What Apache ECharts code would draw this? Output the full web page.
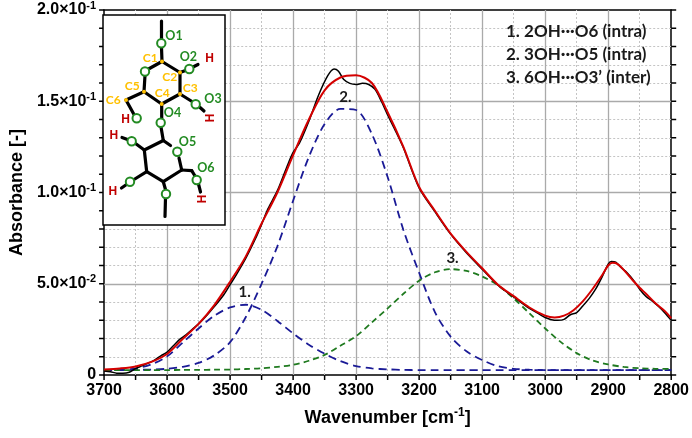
<!DOCTYPE html>
<html>
<head>
<meta charset="utf-8">
<script src="https://cdn.jsdelivr.net/npm/echarts@6/dist/echarts.min.js"></script>
<style>html,body{margin:0;padding:0;background:#fff}#chart{width:692px;height:438px}</style>
</head>
<body>
<div id="chart"></div>
<script>
// measured spectrum (black)
var wnMeasured = [3700,3690,3680,3670,3660,3650,3640,3630,3620,3610,3600,3590,3580,3570,3560,3550,3540,3525,3510,3500,
    3490,3475,3460,3450,3440,3425,3410,3400,3390,3375,3360,3345,3335,3328,3320,3310,3300,3290,3280,3270,
    3260,3250,3240,3225,3200,3175,3150,3125,3100,3075,3050,3025,3010,3000,2990,2980,2970,2960,2950,2940,
    2930,2920,2910,2900,2895,2888,2880,2870,2860,2850,2840,2830,2820,2810,2800];
var absMeasured = [0.0022,0.0018,0.0010,0.0009,0.0015,0.0035,0.0050,0.0065,0.0082,0.0105,0.0125,0.0160,0.0195,0.0220,0.0250,0.0280,0.0315,0.0375,0.0440,0.0495,
    0.0550,0.0640,0.0745,0.0825,0.0910,0.1010,0.1140,0.1220,0.1270,0.1390,0.1530,0.1640,0.1677,0.1665,0.1620,0.1598,0.1592,0.1598,0.1592,0.1565,
    0.1500,0.1425,0.1355,0.1245,0.1025,0.0895,0.0772,0.0670,0.0580,0.0492,0.0428,0.0365,0.0335,0.0315,0.0303,0.0300,0.0305,0.0330,0.0342,0.0380,
    0.0420,0.0470,0.0535,0.0608,0.0622,0.0618,0.0590,0.0560,0.0520,0.0470,0.0430,0.0405,0.0375,0.0340,0.0300];

// fitted envelope (red)
var wnFit = [3700,3675,3650,3625,3600,3575,3550,3525,3500,3475,3450,3425,3400,3375,3350,3325,3300,3275,3250,3225,
    3200,3175,3150,3125,3100,3075,3050,3025,3000,2985,2970,2955,2940,2925,2910,2900,2893,2885,2875,2860,
    2850,2840,2825,2810,2800];
var absFit = [0.0030,0.0036,0.0047,0.0072,0.0115,0.0198,0.0280,0.0383,0.0511,0.0650,0.0830,0.1000,0.1205,0.1400,0.1560,0.1630,0.1642,0.1600,0.1440,0.1250,
    0.1030,0.0900,0.0775,0.0675,0.0585,0.0495,0.0432,0.0370,0.0325,0.0315,0.0325,0.0355,0.0405,0.0470,0.0545,0.0600,0.0615,0.0608,0.0575,0.0515,
    0.0478,0.0445,0.0393,0.0350,0.0311];

// deconvoluted peaks (dashed)
var wnPeak = [3700,3675,3650,3625,3600,3575,3550,3525,3500,3475,3450,3425,3400,3375,3350,3325,3300,3275,3250,3225,
    3200,3175,3150,3125,3100,3075,3050,3025,3000,2975,2950,2925,2900,2875,2850,2825,2800];
var absPeak1 = [0.0027,0.0028,0.0036,0.0058,0.0102,0.0178,0.0255,0.0325,0.0370,0.0385,0.0357,0.0296,0.0228,0.0166,0.0117,0.0076,0.0049,0.0036,0.0031,0.0028,
    0.0027,0.0027,0.0027,0.0027,0.0027,0.0027,0.0027,0.0027,0.0027,0.0027,0.0027,0.0027,0.0027,0.0027,0.0027,0.0027,0.0027];
var absPeak2 = [0.0027,0.0027,0.0028,0.0030,0.0034,0.0045,0.0066,0.0108,0.0180,0.0318,0.0500,0.0705,0.0955,0.1195,0.1375,0.1458,0.1452,0.1320,0.1085,0.0795,
    0.0560,0.0345,0.0210,0.0130,0.0082,0.0048,0.0034,0.0029,0.0027,0.0027,0.0027,0.0027,0.0027,0.0027,0.0027,0.0027,0.0027];
var absPeak3 = [0.0027,0.0027,0.0027,0.0027,0.0027,0.0028,0.0028,0.0029,0.0030,0.0033,0.0037,0.0045,0.0056,0.0078,0.0110,0.0160,0.0213,0.0288,0.0365,0.0445,
    0.0517,0.0563,0.0580,0.0570,0.0540,0.0492,0.0420,0.0338,0.0255,0.0180,0.0120,0.0080,0.0058,0.0044,0.0037,0.0034,0.0033];

// peak numbers placed in data coordinates
var peakNames = ['1.', '2.', '3.'];
var peakNameWn = [3477, 3317, 3147];
var peakNameAbs = [0.0455, 0.152, 0.064];

var legendLines = ['1. 2OH\u00b7\u00b7\u00b7O6 (intra)', '2. 3OH\u00b7\u00b7\u00b7O5 (intra)', '3. 6OH\u00b7\u00b7\u00b7O3\u2019 (inter)'];

var yTickMant = {0: '0', 5: '5.0', 10: '1.0', 15: '1.5', 20: '2.0'};
var yTickExp = {0: '', 5: '-2', 10: '-1', 15: '-1', 20: '-1'};

// grid line / tick positions
var gridMajorX = [3600, 3500, 3400, 3300, 3200, 3100, 3000, 2900];
var gridMinorX = [3650, 3550, 3450, 3350, 3250, 3150, 3050, 2950, 2850];
var gridMajorY = [0.05, 0.10, 0.15];
var gridMinorY = [0.01, 0.02, 0.03, 0.04, 0.06, 0.07, 0.08, 0.09, 0.11, 0.12, 0.13, 0.14, 0.16, 0.17, 0.18, 0.19];
var tickX = [3700, 3650, 3600, 3550, 3500, 3450, 3400, 3350, 3300, 3250, 3200, 3150, 3100, 3050, 3000, 2950, 2900, 2850, 2800];
var tickY = [0, 0.01, 0.02, 0.03, 0.04, 0.05, 0.06, 0.07, 0.08, 0.09, 0.10, 0.11, 0.12, 0.13, 0.14, 0.15, 0.16, 0.17, 0.18, 0.19, 0.20];

function zip(xs, ys) {
    return xs.map(function (x, i) { return [x, ys[i]]; });
}

var AX = '"Liberation Sans", Arial, sans-serif';
var ANN = 'Lato, "Open Sans", sans-serif';
var GREEN = '#238b23', GOLD = '#ffc000', HRED = '#c00000';

// ---- inset molecule (decoration) ----
var bonds = [
    [161.5,21,161.5,39],[161.5,47.5,162,61.5],[162,61.5,180,72.5],[180,72.5,180,94],[180,94,161.7,104],
    [161.7,104,144,91.7],[144,91.7,145,75.5],[148.5,69,162,61.5],[180,72.5,185.5,70.5],[193,67,198,64.5],
    [180,94,192,101.5],[199.5,107,204,111],[144,91.7,126,100],[126,100,134,114.5],[161.7,104,161.7,118.5],
    [161,127,163.3,140.5],[163.3,140.5,170.5,145.5],[163.3,140.5,144.3,150],[144.3,150,146.7,171.7],
    [146.7,171.7,163.3,181.7],[163.3,181.7,181.7,170],[181.7,170,179,158],[181.7,170,191.7,170.7],
    [191.7,170.7,195,176],[198.5,184,200.5,192],[144.3,150,135.5,143.5],[127.5,139.5,122,137.5],
    [146.7,171.7,134,179.5],[126.5,184.5,121.5,188],[163.3,181.7,165.5,189.5],[165.5,198,165,216.5]
];
var oxygens = [[161.3,43.3],[145,71.5],[189.3,69],[195.7,104.3],[136.7,118.3],[160.7,122.7],
    [177.3,151.7],[196.7,180],[131.7,141.3],[130,181.7],[166,194]];
var carbons = [[162,61.5],[180,72.5],[180,94],[161.7,104],[144,91.7],[126,100]];
var oLabels = [['O1',174,36],['O2',188.3,57.3],['O3',213,99],['O4',172.5,112.5],['O5',187.5,141.7],['O6',205.8,167.5]];
var cLabels = [['C1',150.3,58.5],['C2',169.7,77.5],['C3',190.3,88.5],['C4',162.2,93.5],['C5',132.3,85.8],['C6',113.3,100]];
var hLabels = [[209.7,59,0],[211,118,1],[125.7,119.7,0],[113.8,135.5,0],[112.8,192,0],[202.8,199,1]];

var inset = [{type: 'rect', shape: {x: 103, y: 15, width: 122, height: 210},
    style: {fill: '#fff', stroke: '#000', lineWidth: 1.5}, z: 100}];
bonds.forEach(function (b) {
    inset.push({type: 'line', shape: {x1: b[0], y1: b[1], x2: b[2], y2: b[3]},
        style: {stroke: '#000', lineWidth: 3.2, lineCap: 'round'}, z: 101});
});
oxygens.forEach(function (o) {
    inset.push({type: 'circle', shape: {cx: o[0], cy: o[1], r: 4.2},
        style: {fill: '#fff', stroke: GREEN, lineWidth: 2}, z: 102});
});
carbons.forEach(function (c) {
    inset.push({type: 'circle', shape: {cx: c[0], cy: c[1], r: 2}, style: {fill: GOLD}, z: 102});
});
oLabels.forEach(function (t) {
    inset.push({type: 'text', x: t[1], y: t[2], z: 103, style: {text: t[0], fill: GREEN,
        font: 'bold 12.5px ' + ANN, align: 'center', verticalAlign: 'middle'}});
});
cLabels.forEach(function (t) {
    inset.push({type: 'text', x: t[1], y: t[2], z: 103, style: {text: t[0], fill: GOLD,
        font: 'bold 12px ' + ANN, align: 'center', verticalAlign: 'middle'}});
});
hLabels.forEach(function (h) {
    inset.push({type: 'text', x: h[0], y: h[1], rotation: h[2] ? Math.PI / 2 : 0, z: 103,
        style: {text: 'H', fill: HRED, font: 'bold 12px ' + AX, align: 'center', verticalAlign: 'middle'}});
});
legendLines.forEach(function (t, i) {
    inset.push({type: 'text', x: 506, y: 32 + i * 23, z: 103,
        style: {text: t, fill: '#1a1a1a', font: 'bold 17px ' + ANN, align: 'left', verticalAlign: 'middle'}});
});

var myChart = echarts.init(document.getElementById('chart'));

var tickLabel = {fontSize: 16, fontWeight: 'bold', color: '#000', fontFamily: AX};
var minorGrid = {color: '#c4c4c4', width: 1, type: [2, 2]};
var majorGrid = {color: '#aaaaaa', width: 1.3, type: 'solid'};

function gridLines(vals, key, style) {
    return vals.map(function (v) {
        var d = {lineStyle: style};
        d[key] = v;
        return d;
    });
}

option = {
    animation: false,
    backgroundColor: '#fff',
    grid: {left: 96, right: 20, top: 10, bottom: 63},
    xAxis: [{
        type: 'value', min: 2800, max: 3700, interval: 100, inverse: true,
        name: '{n|Wavenumber [cm}{s|-1}{n|]}', nameLocation: 'middle', nameGap: 32,
        nameTextStyle: {rich: {
            n: {fontSize: 18, fontWeight: 'bold', color: '#000', fontFamily: AX, lineHeight: 22},
            s: {fontSize: 12, fontWeight: 'bold', color: '#000', fontFamily: AX, lineHeight: 13, verticalAlign: 'top'}
        }},
        axisLine: {onZero: false, lineStyle: {color: '#000', width: 1.5}},
        axisTick: {show: false},
        axisLabel: Object.assign({margin: 8, formatter: function (v) { return String(v); }}, tickLabel),
        splitLine: {show: false}
    }, {
        type: 'value', min: 2800, max: 3700, inverse: true, position: 'top',
        axisLine: {show: true, onZero: false, lineStyle: {color: '#000', width: 1.5}},
        axisTick: {show: false}, axisLabel: {show: false}, splitLine: {show: false}
    }],
    yAxis: [{
        type: 'value', min: 0, max: 0.2, interval: 0.05,
        name: 'Absorbance [-]', nameLocation: 'middle', nameGap: 68,
        nameTextStyle: {fontSize: 18, fontWeight: 'bold', color: '#000', fontFamily: AX},
        axisLine: {show: true, onZero: false, lineStyle: {color: '#000', width: 1.5}},
        axisTick: {show: false},
        axisLabel: {
            margin: 8,
            formatter: function (v) {
                var k = Math.round(v * 100);
                if (!yTickExp[k]) return '{m|' + yTickMant[k] + '}';
                return '{m|' + yTickMant[k] + '\u00d710}{e|' + yTickExp[k] + '}';
            },
            rich: {
                m: {fontSize: 16, fontWeight: 'bold', color: '#000', fontFamily: AX, lineHeight: 20},
                e: {fontSize: 11, fontWeight: 'bold', color: '#000', fontFamily: AX, lineHeight: 12, verticalAlign: 'top'}
            }
        },
        splitLine: {show: false}
    }, {
        type: 'value', min: 0, max: 0.2, interval: 0.05, position: 'right',
        axisLine: {show: true, onZero: false, lineStyle: {color: '#000', width: 1.5}},
        axisTick: {show: false},
        axisLabel: {show: false},
        splitLine: {show: false}
    }],
    graphic: inset,
    series: [
        {name: 'peak1', type: 'line', z: 3, data: zip(wnPeak, absPeak1), smooth: 0.3, showSymbol: false,
            lineStyle: {color: '#1a1a96', width: 1.8, type: [8, 5]},
            markLine: {silent: true, symbol: 'none', label: {show: false}, animation: false, z: 1,
                data: [].concat(
                    gridLines(gridMinorX, 'xAxis', minorGrid),
                    gridLines(gridMinorY, 'yAxis', minorGrid),
                    gridLines(gridMajorX, 'xAxis', majorGrid),
                    gridLines(gridMajorY, 'yAxis', majorGrid))}},
        {name: 'peak2', type: 'line', z: 3, data: zip(wnPeak, absPeak2), smooth: 0.3, showSymbol: false,
            lineStyle: {color: '#1a1a96', width: 1.8, type: [8, 5]}},
        {name: 'peak3', type: 'line', z: 3, data: zip(wnPeak, absPeak3), smooth: 0.3, showSymbol: false,
            lineStyle: {color: '#1f7a1f', width: 1.8, type: [6, 4]}},
        {name: 'measured', type: 'line', z: 4, data: zip(wnMeasured, absMeasured), smooth: 0.3, showSymbol: false,
            lineStyle: {color: '#000', width: 1.5}},
        {name: 'fit', type: 'line', z: 5, data: zip(wnFit, absFit), smooth: 0.3, showSymbol: false,
            lineStyle: {color: '#d40000', width: 2}},
        {name: 'labels', type: 'scatter', z: 6, symbolSize: 0, silent: true, itemStyle: {color: '#000', opacity: 1},
            data: peakNames.map(function (n, i) { return [peakNameWn[i], peakNameAbs[i], n]; }),
            label: {show: true, position: 'inside', formatter: function (p) { return p.data[2]; },
                fontSize: 15, fontWeight: 'bold', color: '#1a1a1a', opacity: 1, fontFamily: ANN,
                textBorderWidth: 0}}
    ]
};

myChart.setOption(option);

// outward tick marks on left, right and bottom frame, placed through the axis scales
var x0 = myChart.convertToPixel({xAxisIndex: 0}, 3700);
var x1 = myChart.convertToPixel({xAxisIndex: 0}, 2800);
var yb = myChart.convertToPixel({yAxisIndex: 0}, 0);
var ticks = [];
tickX.forEach(function (v) {
    var px = myChart.convertToPixel({xAxisIndex: 0}, v);
    ticks.push({type: 'line', z: 50, shape: {x1: px, y1: yb, x2: px, y2: yb + 5},
        style: {stroke: '#000', lineWidth: 1.5}});
});
tickY.forEach(function (v) {
    var py = myChart.convertToPixel({yAxisIndex: 0}, v);
    ticks.push({type: 'line', z: 50, shape: {x1: x0 - 5, y1: py, x2: x0, y2: py},
        style: {stroke: '#000', lineWidth: 1.5}});
    ticks.push({type: 'line', z: 50, shape: {x1: x1, y1: py, x2: x1 + 5, y2: py},
        style: {stroke: '#000', lineWidth: 1.5}});
});
myChart.setOption({graphic: inset.concat(ticks)});
</script>
</body>
</html>
